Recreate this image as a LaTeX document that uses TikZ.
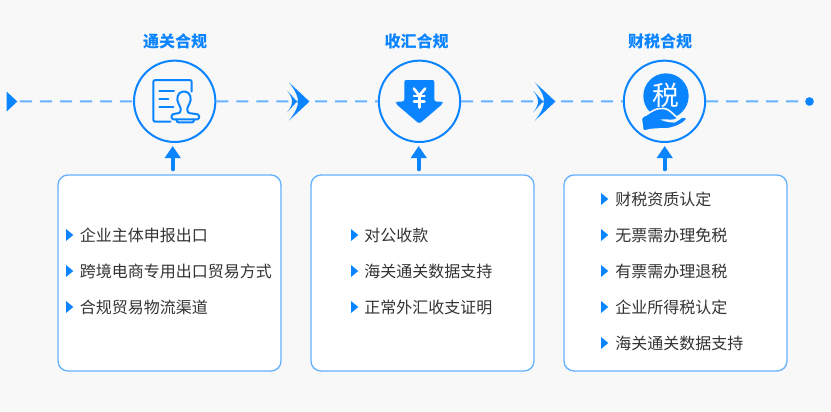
\documentclass[tikz,border=0pt]{standalone}
\usepackage{fontspec}
\setmainfont{Noto Sans CJK SC}
\usetikzlibrary{arrows.meta}
\definecolor{flowblue}{HTML}{0A84FF}
\definecolor{dashblue}{HTML}{66B2FF}
\definecolor{pagegray}{HTML}{F8F8F9}
\definecolor{itemgray}{HTML}{333333}
\tikzset{
  ring/.style={circle,draw=flowblue,line width=1.5pt,fill=pagegray,minimum size=61pt,inner sep=0pt},
  card/.style={rectangle,rounded corners=7.5pt,draw=dashblue,line width=1pt,fill=white,minimum width=167.25pt,minimum height=147pt,inner sep=0pt},
  headline/.style={text=flowblue,font=\bfseries\fontsize{12}{14}\selectfont},
  itemtext/.style={text=itemgray,anchor=west,inner sep=0pt,font=\fontsize{12}{14}\selectfont},
  flowline/.style={draw=dashblue,line width=1.5pt,dash pattern=on 9pt off 6pt},
  uparrow/.style={draw=flowblue,line width=2.7pt,line cap=round,-{Triangle[length=9pt,width=11.5pt]}},
  iconline/.style={draw=flowblue,line width=1.5pt,line cap=round,line join=round,rounded corners=1.5pt},
  chevmark/.pic={
    \fill[flowblue] (-10,-19) .. controls (-3,-10) and (-1,-5) .. (-1,0) .. controls (-1,5) and (-3,10) .. (-10,19) -- (10.5,0) -- cycle;
    \fill[flowblue] (-12,-11) .. controls (-8,-6) and (-7,-3) .. (-7,0) .. controls (-7,3) and (-8,6) .. (-12,11) -- (-2,0) -- cycle;
  }
}
\begin{document}
\begin{tikzpicture}[x=0.75pt,y=-0.75pt]
  \fill[pagegray] (0,0) rectangle (831,411);
  \useasboundingbox (0,0) rectangle (831,411);

  \coordinate (flowstart) at (12,101.5);
  \coordinate (chev1) at (299,101.5);
  \coordinate (chev2) at (545,101.5);
  \node[circle,fill=flowblue,minimum size=6.5pt,inner sep=0pt] (flowend) at (809.5,101.5) {};

  \node[ring] (ring1) at (174.7,101.3) {};
  \node[ring] (ring2) at (419.5,101.3) {};
  \node[ring] (ring3) at (664.5,101.3) {};

  \node[card] (card1) at (169.5,273) {};
  \node[card] (card2) at (422.5,273) {};
  \node[card] (card3) at (675.5,273) {};

  \node[headline] (title1) at (175,41) {通关合规};
  \node[headline] (title2) at (416.5,41) {收汇合规};
  \node[headline] (title3) at (660,41) {财税合规};

  \draw[flowline,shorten <=6pt] (flowstart) -- (ring1);
  \draw[flowline] (ring1) -- (chev1);
  \draw[flowline,shorten <=12pt] (chev1) -- (ring2);
  \draw[flowline] (ring2) -- (chev2);
  \draw[flowline,shorten <=12pt] (chev2) -- (ring3);
  \draw[flowline] (ring3) -- (flowend);

  \fill[flowblue] (6.7,91.7) -- (17.3,101.5) -- (6.7,111.5) -- cycle;
  \pic at (chev1) {chevmark};
  \pic at (chev2) {chevmark};

  \foreach \n/\xpos in {1/172.7,2/418.7,3/664.7}{
    \coordinate (foot\n) at (\xpos,169.5);
    \coordinate (tip\n) at (\xpos,146);
    \draw[uparrow] (foot\n) -- (tip\n);
  }

  \foreach \y/\txt in {235/企业主体申报出口,271/跨境电商专用出口贸易方式,307/合规贸易物流渠道}{
    \fill[flowblue] (66,\y-6) -- (73.3,\y) -- (66,\y+6) -- cycle;
    \node[itemtext] (left\y) at (79.5,\y) {\txt};
  }
  \foreach \y/\txt in {235/对公收款,271/海关通关数据支持,307/正常外汇收支证明}{
    \fill[flowblue] (351,\y-6) -- (358.3,\y) -- (351,\y+6) -- cycle;
    \node[itemtext] (mid\y) at (364,\y) {\txt};
  }
  \foreach \y/\txt in {199/财税资质认定,235/无票需办理免税,271/有票需办理退税,307/企业所得税认定,343/海关通关数据支持}{
    \fill[flowblue] (601,\y-6) -- (608.3,\y) -- (601,\y+6) -- cycle;
    \node[itemtext] (right\y) at (615,\y) {\txt};
  }

  \draw[iconline] (170.5,121.7) -- (153.3,121.7) -- (153.3,80) -- (191.7,80) -- (191.7,91.5);
  \draw[iconline] (159.3,90.7) -- (174,90.7);
  \draw[iconline] (159.3,98.7) -- (168.3,98.7);
  \draw[iconline] (159.3,106.7) -- (173.3,106.7);
  \draw[iconline,rounded corners=1pt] (171.7,119.3) -- (171.7,114.5) -- (177,113.3) .. controls (181,113) and (181,108.5) .. (179.5,105.5) .. controls (175.5,99) and (178,91.7) .. (184,91.7) .. controls (190,91.7) and (192.5,99) .. (188.5,105.5) .. controls (187,108.5) and (187,113) .. (191,113.3) -- (199,114.5) -- (199,119.3) -- cycle;
  \draw[iconline] (176.5,119.3) -- (176.5,122.3) -- (194,122.3) -- (194,119.3);

  \fill[flowblue,rounded corners=1.5pt] (404.3,80) -- (434.3,80) -- (434.3,101.5) -- (442.5,101.5) -- (443,103.5) -- (419.3,123.8) -- (395.5,103.5) -- (396,101.5) -- (404.3,101.5) -- cycle;
  \draw[white,line width=2pt,line cap=round,line join=round] (413.8,88.5) -- (419.3,95.5) -- (425.2,88.5);
  \draw[white,line width=2pt,line cap=round] (414,96) -- (424.5,96);
  \draw[white,line width=2pt,line cap=round] (414,101.7) -- (424.5,101.7);
  \draw[white,line width=2pt,line cap=round] (419.3,95.5) -- (419.3,107.5);

  \node[circle,fill=flowblue,minimum size=34pt,inner sep=0pt] (taxdisc) at (666,96) {};
  \node[text=white,inner sep=0pt,font=\fontsize{20}{22}\selectfont] (taxword) at (666,95.5) {税};
  \filldraw[fill=flowblue,draw=pagegray,line width=1.2pt,rounded corners=1.5pt] (641,117) .. controls (648,115) and (652,109) .. (662,108.5) .. controls (668,108.5) and (672,113) .. (676,116.5) .. controls (678,118) and (676,120) .. (672,120.5) -- (663,120) -- (672,122) .. controls (676,121.5) and (680,118) .. (684,116) -- (687.5,118.5) .. controls (682,125) and (672,129) .. (662,129) .. controls (655,129) and (650,129.5) .. (643,131.5) -- cycle;
\end{tikzpicture}
\end{document}
